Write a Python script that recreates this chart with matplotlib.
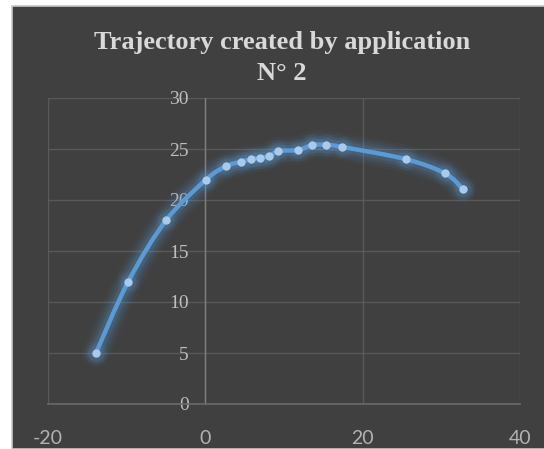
import matplotlib
matplotlib.use("Agg")
import matplotlib.pyplot as plt
from matplotlib.path import Path
from matplotlib.patches import PathPatch, Rectangle
import numpy as np

plt.rcParams["axes.unicode_minus"] = False

# Data
x_vals = [-13.9, -9.8, -5.0, 0.1, 2.6, 4.5, 5.8, 7.0, 8.1, 9.3, 11.8, 13.6, 15.4, 17.4, 25.5, 30.5, 32.7]
y_vals = [5.0, 12.0, 18.0, 22.0, 23.3, 23.75, 24.0, 24.15, 24.3, 24.8, 24.9, 25.4, 25.4, 25.2, 24.0, 22.6, 21.1]
x_ticks = [-20, 0, 20, 40]
y_ticks = [0, 5, 10, 15, 20, 25, 30]
title = "Trajectory created by application\nN° 2"

BG = "#404040"
GRID = "#595959"
LINE = "#5B9BD5"
MARK = "#A9CAEA"
TXT = "#BFBFBF"

W, H = 544, 449
fig = plt.figure(figsize=(W / 100, H / 100), dpi=100, facecolor="white")
fig.patches.append(Rectangle((12 / W, 0), 1, 1 - 6 / H, transform=fig.transFigure,
                             facecolor=BG, edgecolor="#C8C8C8", linewidth=1.2, zorder=-10))

ax = fig.add_axes([48 / W, (H - 404) / H, (520 - 48) / W, (404 - 98) / H])
ax.set_facecolor(BG)
ax.set_xlim(-20, 40)
ax.set_ylim(0, 30)
ax.set_xticks(x_ticks)
ax.set_yticks(y_ticks)
ax.grid(True, color=GRID, linewidth=1.0)
ax.set_axisbelow(True)
for s in ["top", "right"]:
    ax.spines[s].set_visible(False)
ax.spines["left"].set_position(("data", 0))
ax.spines["left"].set_color("#7F7F7F")
ax.spines["left"].set_linewidth(1.0)
ax.spines["bottom"].set_color("#6A6A6A")
ax.spines["bottom"].set_linewidth(1.2)
ax.tick_params(axis="both", length=0)
ax.tick_params(axis="y", pad=12, labelcolor=TXT)
ax.tick_params(axis="x", pad=19, labelcolor="#B3B3B3")
for lab in ax.get_yticklabels():
    lab.set_fontfamily("Liberation Serif")
    lab.set_fontsize(14)
for lab in ax.get_xticklabels():
    lab.set_fontfamily("Lato")
    lab.set_fontsize(14)

# Smooth (Catmull-Rom style) path through the data points, like Excel's smoothed line
P = np.column_stack([x_vals, y_vals])
verts = [tuple(P[0])]
codes = [Path.MOVETO]
n = len(P)
for i in range(n - 1):
    p0 = P[max(i - 1, 0)]
    p1 = P[i]
    p2 = P[i + 1]
    p3 = P[min(i + 2, n - 1)]
    c1 = p1 + (p2 - p0) / 6.0
    c2 = p2 - (p3 - p1) / 6.0
    verts += [tuple(c1), tuple(c2), tuple(p2)]
    codes += [Path.CURVE4] * 3
path = Path(verts, codes)

for lw, a in [(20, 0.05), (16, 0.07), (12, 0.10), (8, 0.16)]:
    ax.add_patch(PathPatch(path, facecolor="none", edgecolor=LINE, linewidth=lw, alpha=a,
                           capstyle="round", joinstyle="round", zorder=3))
ax.add_patch(PathPatch(path, facecolor="none", edgecolor=LINE, linewidth=3.2,
                       capstyle="round", joinstyle="round", zorder=4))
for ms, a in [(16, 0.08), (12, 0.12)]:
    ax.plot(x_vals, y_vals, linestyle="none", marker="o", markersize=ms, color=LINE,
            alpha=a, markeredgewidth=0, zorder=4)
ax.plot(x_vals, y_vals, linestyle="none", marker="o", markersize=6, color=MARK,
        markeredgewidth=0, zorder=5)

fig.text(282 / W, 1 - 58 / H, title, ha="center", va="center", fontfamily="Liberation Serif",
         fontweight="bold", fontsize=19, color="#D9D9D9", linespacing=1.4)

fig.savefig("out.png", dpi=100, facecolor=fig.get_facecolor())
